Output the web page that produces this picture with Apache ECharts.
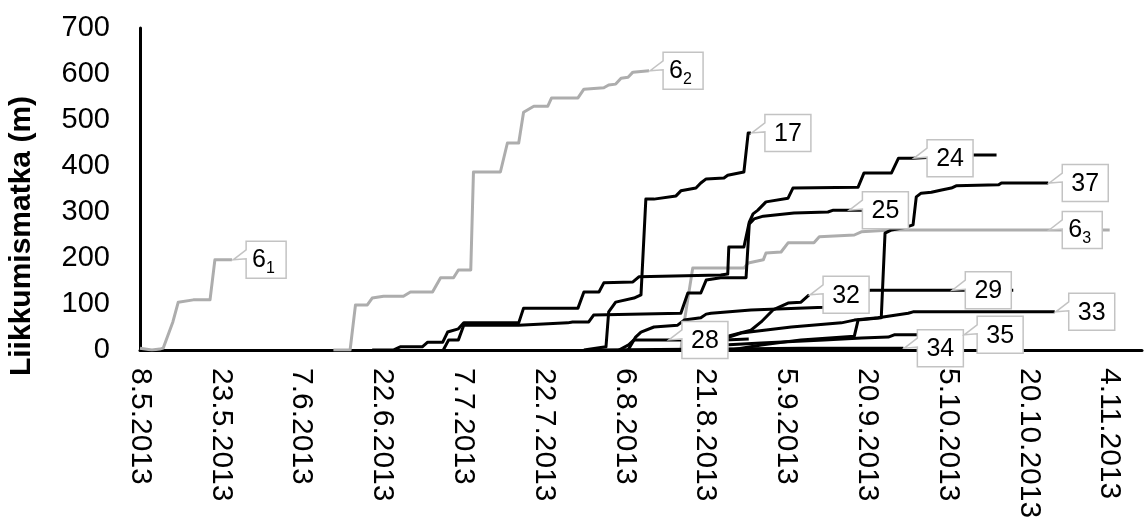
<!DOCTYPE html>
<html><head><meta charset="utf-8">
<script src="https://cdn.jsdelivr.net/npm/echarts@6/dist/echarts.min.js"></script>
<style>html,body{margin:0;padding:0;background:#fff}#c{width:1146px;height:523px}</style>
</head><body><div id="c"></div>
<script>
// x values = days since 8.5.2013, y values = metres
const xTickLabels = ['8.5.2013','23.5.2013','7.6.2013','22.6.2013','7.7.2013','22.7.2013','6.8.2013','21.8.2013','5.9.2013','20.9.2013','5.10.2013','20.10.2013','4.11.2013'];

const s6_1 = [[0,4],[2.2,0],[3.7,2],[4.3,4],[6.1,61],[7.1,104],[9.9,109],[13,109],[13.9,196],[17.1,196]];
const s6_2 = [[35.9,0],[39,0],[40,98],[42.2,98],[43.1,113],[45.2,117],[48.9,117],[50.2,126],[54.3,126],[55.8,157],[58.2,157],[59.1,174],[61.4,174],[61.9,387],[66.9,387],[68.2,450],[70.3,450],[71.2,517],[73.1,530],[75.7,530],[76.4,548],[81.3,548],[82.4,567],[86.1,570],[87,576],[88.3,578],[89.3,591],[90.6,593],[91.5,604],[94.5,607]];
const s6_3 = [[100.4,0],[101,59],[102.6,178],[104.1,178],[112.1,178],[112.9,189],[115.7,196],[116.2,211],[119,213],[120.3,233],[125.1,233],[126.1,246],[132.6,250],[133.9,257],[139.5,261],[168.6,261],[180,261]];
const s17 = [[82.4,0],[86.5,7],[87,83],[88.3,104],[91.7,113],[93,120],[93.9,328],[95.4,328],[99.5,335],[100.4,346],[103.2,352],[104.1,363],[105.1,372],[108.4,374],[109.1,380],[112.1,387],[112.9,472],[113.4,472]];
const s24 = [[43.1,0],[47,0],[48.3,7],[52.4,7],[53.4,17],[56.2,17],[57.1,39],[59.1,46],[60.1,59],[70.3,59],[71.2,91],[81.3,91],[82.4,126],[85.2,126],[86.1,146],[91.5,148],[92.6,159],[107.8,163],[109.1,165],[109.3,224],[112.1,224],[113.1,278],[113.8,296],[114.7,304],[116.2,322],[120.3,330],[121.2,352],[133.3,354],[134.4,385],[139.5,385],[140.8,417],[143.5,417],[154.7,424],[159,424]];
const s25 = [[56.3,0],[57.3,22],[59.1,22],[60.1,54],[70.3,54],[79.4,59],[80.3,61],[83.3,61],[84.2,76],[100.4,80],[101.7,124],[104.1,124],[105.1,152],[107.8,157],[112.5,157],[113.1,274],[114,285],[115.7,291],[121.4,298],[127.7,300],[128.7,304],[131.5,304],[137.6,304]];
const s28 = [[88.9,0],[90.7,11],[91.7,22],[98,22],[108.4,22],[113,24]];
const s29 = [[90.6,0],[92,28],[93,39],[95.4,50],[99.8,54],[101,65],[104.1,70],[105.1,78],[106,80],[113.4,87],[127,93],[130.2,126],[135.7,130],[150.6,130],[162.1,130]];
const s32 = [[105.1,0],[106.9,11],[108.4,28],[113.4,43],[115.3,61],[117.5,87],[120.3,102],[122.7,104],[124.2,120]];
const s33 = [[106.4,0],[107.8,22],[111.6,37],[120.9,50],[130.2,59],[132.6,65],[137,70],[142.6,80],[143.5,83],[169.8,83]];
const s34 = [[84.6,0],[107.8,2],[122.7,4],[141.7,4]];
const s35 = [[104.1,0],[108.4,11],[115.3,15],[127,22],[133.9,26],[138.9,28],[140,33],[152.8,33]];
const s37 = [[109.7,0],[115.3,11],[122.7,22],[132.6,30],[133.3,65],[137.6,70],[138.3,254],[139.5,261],[142.2,267],[143.5,272],[144.1,333],[145,341],[146.9,343],[148.8,348],[150.6,352],[151.5,357],[159.4,359],[159.9,363],[168.6,363]];

const seriesData  = [s6_1, s6_2, s6_3, s17, s24, s25, s28, s29, s32, s33, s34, s35, s37];
const labelMain   = ['6','6','6','17','24','25','28','29','32','33','34','35','37'];
const labelSub    = ['1','2','3','','','','','','','','','',''];
const calloutIdx  = [9, 29, 15, 17, 31, 21, 3, 13, 8, 9, 3, 7, 18];

const FONT = '"Liberation Sans", Arial, Helvetica, sans-serif';
const GRAY = '#adadad';

const lineSeries = seriesData.map((d, i) => ({
  type: 'line',
  name: labelMain[i] + labelSub[i],
  data: d,
  symbol: 'none',
  silent: true,
  z: labelSub[i] ? 2 : 3,
  lineStyle: { width: 3, color: labelSub[i] ? GRAY : '#000', join: 'round' }
}));

const calloutData = seriesData.map((d, i) => [d[calloutIdx[i]][0], d[calloutIdx[i]][1], i]);

const calloutSeries = {
  type: 'custom',
  data: calloutData,
  z: 10,
  silent: true,
  clip: false,
  renderItem: function (params, api) {
    const i = api.value(2);
    const p = api.coord([api.value(0), api.value(1)]);
    const sub = labelSub[i];
    const w = sub ? 40 : 46, h = 37;
    const bx = p[0] + 14, by = p[1] - h / 2, cy = p[1];
    const pts = [[bx, by], [bx + w, by], [bx + w, by + h], [bx, by + h], [bx, cy - 1], [p[0] + 1, p[1]], [bx, cy - 10]];
    const children = [
      { type: 'polygon', shape: { points: pts }, style: { fill: '#fff', stroke: '#c3c3c3', lineWidth: 1.5 } }
    ];
    if (sub) {
      children.push({ type: 'text', style: { text: labelMain[i], x: bx + 6, y: cy, fill: '#000', font: '25px ' + FONT, align: 'left', textAlign: 'left', verticalAlign: 'middle', textVerticalAlign: 'middle' } });
      children.push({ type: 'text', style: { text: sub, x: bx + 20, y: cy + 9, fill: '#000', font: '16px ' + FONT, align: 'left', textAlign: 'left', verticalAlign: 'middle', textVerticalAlign: 'middle' } });
    } else {
      children.push({ type: 'text', style: { text: labelMain[i], x: bx + w / 2, y: cy + 1, fill: '#000', font: '25px ' + FONT, align: 'center', textAlign: 'center', verticalAlign: 'middle', textVerticalAlign: 'middle' } });
    }
    return { type: 'group', children: children };
  }
};

const chart = echarts.init(document.getElementById('c'), null, { renderer: 'canvas' });
chart.setOption({
  animation: false,
  backgroundColor: '#fff',
  grid: { left: 140, right: 4, top: 28, bottom: 173, containLabel: false },
  xAxis: {
    type: 'value', min: 0, max: 186, interval: 15,
    axisLine: { show: true, onZero: false, lineStyle: { color: '#000', width: 3 } },
    axisTick: { show: false },
    splitLine: { show: false },
    axisLabel: {
      rotate: -90, margin: 18, fontSize: 30, color: '#000', fontFamily: FONT,
      showMaxLabel: false,
      formatter: v => (v % 15 === 0 && xTickLabels[v / 15]) ? xTickLabels[v / 15] : ''
    }
  },
  yAxis: {
    type: 'value', min: 0, max: 700, interval: 100,
    axisLine: { show: true, lineStyle: { color: '#000', width: 3 } },
    axisTick: { show: false },
    splitLine: { show: false },
    axisLabel: { fontSize: 29, color: '#000', margin: 30, fontFamily: FONT }
  },
  graphic: [{
    type: 'text', x: 22, y: 236, rotation: Math.PI / 2,
    style: { text: 'Liikkumismatka (m)', font: 'bold 30px ' + FONT, fill: '#000', align: 'center', textAlign: 'center', verticalAlign: 'middle', textVerticalAlign: 'middle' }
  }],
  series: lineSeries.concat([calloutSeries])
});
</script>
</body></html>
